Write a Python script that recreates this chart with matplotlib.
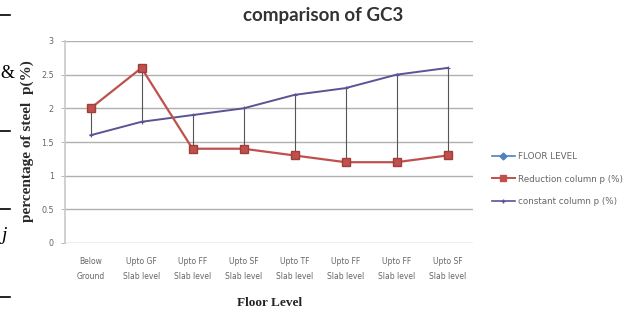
import numpy as np
import matplotlib
matplotlib.use("Agg")
import matplotlib.pyplot as plt
from matplotlib.lines import Line2D

levels = ["Below\nGround", "Upto GF\nSlab level", "Upto FF\nSlab level", "Upto SF\nSlab level",
          "Upto TF\nSlab level", "Upto FF\nSlab level", "Upto FF\nSlab level", "Upto SF\nSlab level"]
reduction_p = [2.0, 2.6, 1.4, 1.4, 1.3, 1.2, 1.2, 1.3]
constant_p = [1.6, 1.8, 1.9, 2.0, 2.2, 2.3, 2.5, 2.6]
yticks = [0, 0.5, 1, 1.5, 2, 2.5, 3]
yticklabels = ["0", "0.5", "1", "1.5", "2", "2.5", "3"]

blue = "#4F81BD"
red = "#C0504D"
purple = "#5B5393"

fig = plt.figure(figsize=(6.37, 3.22), dpi=100)
ax = fig.add_axes([65 / 637, 1 - 243 / 322, 408 / 637, 202 / 322])

x = np.arange(len(levels))

# high-low lines between the two series
for xi, a, b in zip(x, reduction_p, constant_p):
    ax.plot([xi, xi], [min(a, b), max(a, b)], color="#555555", lw=0.8, zorder=2)

ax.plot(x, constant_p, color=purple, lw=1.4, marker="+", ms=3, mew=0.8, zorder=3)
ax.plot(x, reduction_p, color=red, lw=1.6, marker="s", ms=6, mfc=red, mec="#A03E3B", zorder=4)

ax.set_xlim(-0.5, len(levels) - 0.5)
ax.set_ylim(0, 3)
ax.set_yticks(yticks)
ax.set_yticklabels(yticklabels, fontsize=5.8, color="#666666")
ax.set_xticks(x)
ax.set_xticklabels(levels, fontsize=5.5, color="#666666", linespacing=1.9)
ax.tick_params(axis="x", length=0, pad=10)
ax.tick_params(axis="y", length=3, width=0.6, color="#AAAAAA", pad=5)
ax.grid(axis="y", color="#B0B0B0", lw=1.0)
ax.set_axisbelow(True)
for side in ["top", "right", "bottom"]:
    ax.spines[side].set_visible(False)
ax.spines["left"].set_color("#C8C8C8")
ax.spines["left"].set_linewidth(1.2)

fig.text(323 / 637, 1 - 15 / 322, "comparison of GC3", ha="center", va="center",
         fontsize=13.5, fontweight="bold", color="#333333", family="Lato")
fig.text(270 / 637, 1 - 303 / 322, "Floor Level", ha="center", va="center",
         fontsize=9.5, fontweight="bold", color="#222222", family="Liberation Serif")
fig.text(27 / 637, 1 - 141 / 322, "percentage of steel  p(%)", ha="center", va="center",
         rotation=90, fontsize=11, fontweight="bold", color="#2a2a2a", family="Liberation Serif")

handles = [
    Line2D([], [], color=blue, lw=1.2, marker="D", ms=3.5),
    Line2D([], [], color=red, lw=1.4, marker="s", ms=4.5),
    Line2D([], [], color=purple, lw=1.2, marker="+", ms=3),
]
labels = ["FLOOR LEVEL", "Reduction column p (%)", "constant column p (%)"]
fig.legend(handles, labels, loc="center left", bbox_to_anchor=(492 / 637, 1 - 179 / 322),
           frameon=False, fontsize=6.3, labelcolor="#666666", handlelength=2.6,
           handletextpad=0.4, labelspacing=1.55, borderpad=0, borderaxespad=0)

# surrounding page fragments
for yy in [15, 131, 209, 297]:
    fig.add_artist(Line2D([0, 10 / 637], [1 - yy / 322] * 2, color="black", lw=1.2))
fig.text(0, 1 - 73 / 322, "&", fontsize=13, family="Liberation Serif", va="center")
fig.text(1 / 637, 1 - 236 / 322, "j", fontsize=14, family="Liberation Serif",
         style="italic", va="center")

fig.savefig("out.png", dpi=100)
